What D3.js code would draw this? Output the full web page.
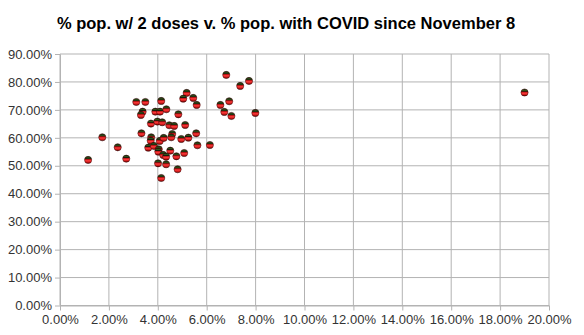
<!DOCTYPE html>
<html>
<head>
<meta charset="utf-8">
<script src="https://cdn.jsdelivr.net/npm/d3@7"></script>
<style>
  html, body { margin: 0; padding: 0; background: #fff; }
  svg { display: block; font-family: "Liberation Sans", Arial, sans-serif; }
</style>
</head>
<body>
<svg id="chart" width="584" height="335"></svg>
<script>
// Share of population with COVID since November 8 (x) vs share fully vaccinated (y), in percent
const covidShare = [
  6.80, 7.37, 7.73, 3.12, 3.49, 4.14, 5.18, 5.04, 5.45, 5.59,
  6.56, 6.92, 6.72, 7.01, 7.99, 3.38, 3.31, 3.90, 4.09, 4.35,
  4.84, 3.72, 3.98, 4.18, 4.47, 4.67, 5.12, 3.33, 3.73, 3.71,
  4.08, 4.24, 4.59, 4.55, 4.96, 5.25, 5.57, 5.62, 6.13, 3.61,
  3.84, 4.04, 4.02, 4.51, 4.22, 4.34, 4.76, 5.08, 4.01, 4.34,
  4.81, 4.14, 1.15, 1.73, 2.36, 2.71, 19.00
];
const twoDoseShare = [
  82.50, 78.56, 80.35, 72.83, 72.83, 73.19, 76.06, 74.02, 74.27, 71.76,
  71.76, 73.09, 69.26, 67.82, 68.90, 69.36, 68.18, 69.36, 69.36, 70.22,
  68.43, 65.10, 65.82, 65.57, 64.50, 64.25, 64.60, 61.63, 60.20, 58.98,
  58.88, 59.95, 61.38, 60.20, 59.59, 60.06, 61.63, 57.34, 57.44, 56.48,
  57.09, 55.90, 55.05, 55.40, 53.87, 53.26, 53.40, 54.58, 50.89, 50.54,
  48.75, 45.63, 52.08, 60.20, 56.62, 52.54, 76.23
];
const xTicks = [0, 2, 4, 6, 8, 10, 12, 14, 16, 18, 20];
const yTicks = [0, 10, 20, 30, 40, 50, 60, 70, 80, 90];
const title = "% pop. w/ 2 doses v. % pop. with COVID since November 8";

const points = covidShare.map((x, i) => ({ x, y: twoDoseShare[i] }));

const svg = d3.select("#chart");
const plot = { left: 60, right: 549, top: 54, bottom: 305.5 };

const x = d3.scaleLinear().domain([0, 20]).range([plot.left, plot.right]);
const y = d3.scaleLinear().domain([0, 90]).range([plot.bottom, plot.top]);
const fmt = v => v.toFixed(2) + "%";

// Sphere-like marker shading
const defs = svg.append("defs");
const grad = defs.append("linearGradient")
  .attr("id", "ball").attr("x1", 0).attr("y1", 0).attr("x2", 0).attr("y2", 1);
[
  [0, "#0d1a08"], [0.22, "#2f5a1c"], [0.34, "#1a1a0a"],
  [0.42, "#b01010"], [0.6, "#ff3a3a"], [0.82, "#c81818"], [1, "#4a0000"]
].forEach(([o, c]) => grad.append("stop").attr("offset", o).attr("stop-color", c));

// Gridlines
svg.append("g")
  .selectAll("line.v").data(xTicks).join("line")
  .attr("x1", d => x(d)).attr("x2", d => x(d))
  .attr("y1", plot.top).attr("y2", plot.bottom)
  .attr("stroke", "#b3b3b3").attr("stroke-width", 1);
svg.append("g")
  .selectAll("line.h").data(yTicks).join("line")
  .attr("x1", plot.left).attr("x2", plot.right)
  .attr("y1", d => y(d)).attr("y2", d => y(d))
  .attr("stroke", "#b3b3b3").attr("stroke-width", 1);

// Axes
const xAxis = d3.axisBottom(x).tickValues(xTicks).tickFormat(fmt).tickSizeInner(5).tickSizeOuter(0).tickPadding(4);
const yAxis = d3.axisLeft(y).tickValues(yTicks).tickFormat(fmt).tickSizeInner(5).tickSizeOuter(0).tickPadding(3);

const gx = svg.append("g").attr("transform", `translate(0,${plot.bottom})`).call(xAxis);
const gy = svg.append("g").attr("transform", `translate(${plot.left},0)`).call(yAxis);
[gx, gy].forEach(g => {
  g.select(".domain").attr("stroke", "#b3b3b3");
  g.selectAll(".tick line").attr("stroke", "#b3b3b3");
  g.selectAll(".tick text")
    .attr("fill", "#333")
    .style("font-size", "13px")
    .style("font-family", "'Liberation Sans', Arial, sans-serif");
});

// Points
svg.append("g")
  .selectAll("circle").data(points).join("circle")
  .attr("cx", d => x(d.x)).attr("cy", d => y(d.y))
  .attr("r", 3.6)
  .attr("fill", "url(#ball)")
  .attr("stroke", "#3a0505").attr("stroke-width", 0.5);

// Title
svg.append("text")
  .attr("x", 286).attr("y", 29)
  .attr("text-anchor", "middle")
  .attr("fill", "#000")
  .style("font-size", "16.5px").style("font-weight", "bold")
  .text(title);
</script>
</body>
</html>
